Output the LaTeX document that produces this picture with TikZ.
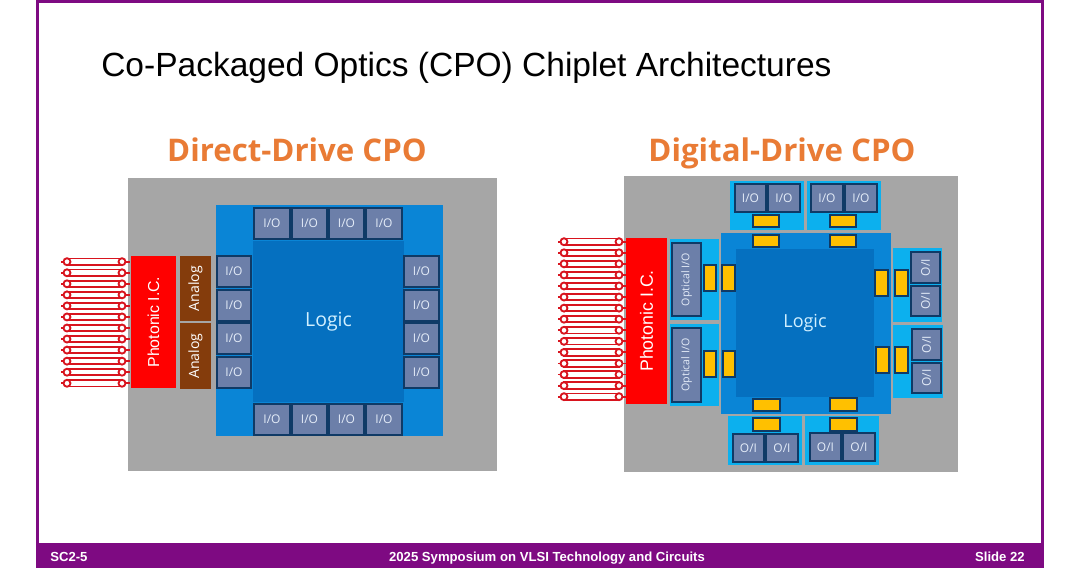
\documentclass[tikz,border=0pt]{standalone}
\usepackage{fontspec}
\setmainfont{Liberation Sans}
\newfontfamily\opens{Open Sans}
\newfontfamily\libs{Liberation Sans}
\definecolor{slidepurple}{HTML}{7E0A82}
\definecolor{chipgray}{HTML}{A6A6A6}
\definecolor{tileblue}{HTML}{0A85D6}
\definecolor{coreblue}{HTML}{0570C0}
\definecolor{lightblue}{HTML}{0CB0EE}
\definecolor{iofill}{HTML}{6C7FA9}
\definecolor{ioedge}{HTML}{0F3A66}
\definecolor{goldfill}{HTML}{FFC000}
\definecolor{analogbrown}{HTML}{843C0C}
\definecolor{headorange}{HTML}{E97B35}
\definecolor{fiberred}{HTML}{D8141E}
\definecolor{paletext}{HTML}{E4ECF8}
\definecolor{logictext}{HTML}{D2F0FF}
\tikzset{
  x=0.75pt,y=-0.75pt,
  plain/.style={inner sep=0,outer sep=0,draw=none},
  iobox/.style={plain,draw=ioedge,line width=1.1pt,fill=iofill,text=paletext,font=\opens\fontsize{9}{9}\selectfont},
  gold/.style={plain,draw=ioedge,line width=1.1pt,fill=goldfill},
  fibertube/.style={draw=fiberred,line width=1.4pt,fill=white},
  heading/.style={anchor=base,text=headorange,font=\opens\bfseries\fontsize{23.4}{24}\selectfont,inner sep=0},
  foot/.style={anchor=base,text=white,font=\bfseries\fontsize{9.85}{10}\selectfont,inner sep=0}
}
% name, style, x1, y1, x2, y2, text
\newcommand{\bx}[7]{%
  \pgfmathsetmacro{\bw}{(#5-#3)*0.75}\pgfmathsetmacro{\bh}{(#6-#4)*0.75}%
  \node[#2,minimum width=\bw pt,minimum height=\bh pt] (#1) at ({(#3+#5)/2},{(#4+#6)/2}) {#7};}
\newcommand{\fiber}[3]{% y, left circle x, right circle x
  \draw[fiberred,line width=1.4pt] (#2-6,#1)--(#2,#1) (#3,#1)--(#3+8,#1);
  \draw[fibertube] (#2,#1-3.2) rectangle (#3,#1+3.2);
  \draw[fibertube] (#2,#1) circle[radius=2.6pt];
  \draw[fibertube] (#3,#1) circle[radius=2.6pt];}
\begin{document}
\begin{tikzpicture}
\useasboundingbox (0,0) rectangle (1080,568);
\fill[white] (0,0) rectangle (1080,568);
% frame
\fill[slidepurple] (36,0) rectangle (1044,3);
\fill[slidepurple] (36,0) rectangle (39,545);
\fill[slidepurple] (1041,0) rectangle (1044,545);
\fill[slidepurple] (36,543) rectangle (1044,568);
\node[anchor=base west,inner sep=0,font=\fontsize{25.14}{26}\selectfont] (title) at (101,76.5) {Co-Packaged Optics (CPO) Chiplet Architectures};
\node[foot,anchor=base west] (fl) at (50,561) {SC2-5};
\node[foot] (fc) at (547,561) {2025 Symposium on VLSI Technology and Circuits};
\node[foot,anchor=base east] (fr) at (1025,561) {Slide 22};
\node[heading] (h1) at (297,161.5) {Direct-Drive CPO};
\node[heading] (h2) at (782,161.5) {Digital-Drive CPO};

%%% Direct drive
\bx{dsub}{plain,fill=chipgray}{128}{178}{497}{471}{}
\foreach \i in {0,...,11} {\pgfmathsetmacro{\yy}{261.7+11.05*\i}\fiber{\yy}{67}{122}}
\bx{dpic}{plain,fill=red,text=white,font=\libs\fontsize{11.9}{13}\selectfont}{131}{256}{176}{388}{\rotatebox{90}{Photonic I.C.}}
\bx{da1}{plain,fill=analogbrown,text=white,font=\opens\fontsize{10.6}{11}\selectfont}{180}{256}{211}{321}{\rotatebox{90}{Analog}}
\bx{da2}{plain,fill=analogbrown,text=white,font=\opens\fontsize{10.6}{11}\selectfont}{180}{323}{211}{389}{\rotatebox{90}{Analog}}
\bx{dtile}{plain,fill=tileblue}{216}{205}{443}{436}{}
\bx{dcore}{plain,fill=coreblue,text=logictext,font=\opens\fontsize{14.6}{15}\selectfont}{253}{241}{404}{402}{Logic}
\foreach \a/\b [count=\n] in {254/290,292/327,329/364,366/402} {
  \bx{dt\n}{iobox}{\a}{208}{\b}{239}{I/O}
  \bx{db\n}{iobox}{\a}{404}{\b}{435}{I/O}
}
\foreach \a/\b [count=\n] in {256/287,290/321,323/354,357/388} {
  \bx{dl\n}{iobox}{217}{\a}{251}{\b}{I/O}
  \bx{dr\n}{iobox}{404}{\a}{439}{\b}{I/O}
}

%%% Digital drive
\bx{gsub}{plain,fill=chipgray}{624}{176}{958}{472}{}
\foreach \i in {0,...,14} {\pgfmathsetmacro{\yy}{241.7+11.07*\i}\fiber{\yy}{564}{619}}
\bx{gpic}{plain,fill=red,text=white,font=\libs\fontsize{13.3}{14}\selectfont}{626}{238}{667}{404}{\rotatebox{90}{Photonic I.C.}}
% light tiles
\bx{gtl1}{plain,fill=lightblue}{670}{239}{719}{320}{}
\bx{gtl2}{plain,fill=lightblue}{670}{324}{719}{406}{}
\bx{gtt1}{plain,fill=lightblue}{730}{181}{804}{230}{}
\bx{gtt2}{plain,fill=lightblue}{807}{181}{881}{230}{}
\bx{gtb1}{plain,fill=lightblue}{728}{416}{802}{465}{}
\bx{gtb2}{plain,fill=lightblue}{805}{416}{879}{465}{}
\bx{gtr1}{plain,fill=lightblue}{893}{248}{942}{322}{}
\bx{gtr2}{plain,fill=lightblue}{893}{325}{943}{398}{}
% logic
\bx{gtile}{plain,fill=tileblue}{721}{233}{891}{414}{}
\bx{gcore}{plain,fill=coreblue,text=logictext,font=\opens\fontsize{13.5}{14}\selectfont}{736}{249}{874}{397}{Logic}
% optical
\bx{gop1}{iobox,font=\opens\fontsize{8}{8}\selectfont}{672}{243}{701}{316}{\rotatebox{90}{Optical I/O}}
\bx{gop2}{iobox,font=\opens\fontsize{8}{8}\selectfont}{672}{328}{701}{402}{\rotatebox{90}{Optical I/O}}
% top
\bx{gi1}{iobox}{735}{184}{766}{212}{I/O}
\bx{gi2}{iobox}{768}{184}{800}{212}{I/O}
\bx{gi3}{iobox}{811}{184}{843}{212}{I/O}
\bx{gi4}{iobox}{845}{184}{877}{212}{I/O}
% bottom
\bx{go1}{iobox}{733}{434}{764}{462}{O/I}
\bx{go2}{iobox}{766}{434}{798}{462}{O/I}
\bx{go3}{iobox}{810}{433}{841}{461}{O/I}
\bx{go4}{iobox}{843}{433}{875}{461}{O/I}
% right
\bx{gr1}{iobox}{911}{252}{940}{283}{\rotatebox{90}{O/I}}
\bx{gr2}{iobox}{911}{286}{940}{316}{\rotatebox{90}{O/I}}
\bx{gr3}{iobox}{912}{329}{941}{360}{\rotatebox{90}{O/I}}
\bx{gr4}{iobox}{912}{363}{941}{393}{\rotatebox{90}{O/I}}
% gold pads
\bx{p1}{gold}{704}{265}{716}{291}{}
\bx{p2}{gold}{722}{265}{735}{291}{}
\bx{p3}{gold}{704}{351}{716}{377}{}
\bx{p4}{gold}{723}{351}{735}{377}{}
\bx{p5}{gold}{753}{215}{779}{227}{}
\bx{p6}{gold}{753}{235}{779}{247}{}
\bx{p7}{gold}{830}{215}{856}{227}{}
\bx{p8}{gold}{830}{235}{856}{247}{}
\bx{p9}{gold}{753}{399}{780}{411}{}
\bx{p10}{gold}{753}{418}{780}{431}{}
\bx{p11}{gold}{830}{398}{857}{411}{}
\bx{p12}{gold}{830}{418}{857}{431}{}
\bx{p13}{gold}{875}{270}{888}{296}{}
\bx{p14}{gold}{895}{270}{908}{296}{}
\bx{p15}{gold}{876}{347}{889}{373}{}
\bx{p16}{gold}{895}{347}{908}{373}{}
\end{tikzpicture}
\end{document}
